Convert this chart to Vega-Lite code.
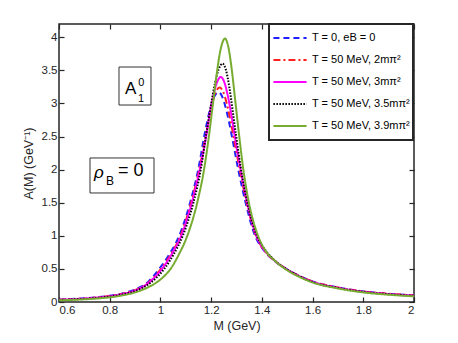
{
  "$schema": "https://vega.github.io/schema/vega-lite/v6.json",
  "width": 355,
  "height": 278,
  "autosize": {"type": "none"},
  "padding": {"left": 59, "top": 24, "right": 44, "bottom": 41},
  "background": "white",
  "config": {
    "view": {"stroke": "#262626", "strokeWidth": 1.5},
    "font": "Liberation Sans",
    "axis": {
      "grid": false, "domain": false,
      "tickColor": "#262626", "tickSize": -5, "tickWidth": 1.2,
      "labelColor": "#262626", "labelFontSize": 11.5, "labelFont": "Liberation Sans",
      "titleColor": "#262626", "titleFontSize": 12.5, "titleFontWeight": "normal", "titleFont": "Liberation Sans"
    },
    "legend": {
      "orient": "none", "legendX": 210, "legendY": 0,
      "symbolType": "stroke", "symbolSize": 1100, "clipHeight": 22,
      "labelFontSize": 11, "labelColor": "black", "labelFont": "Liberation Sans", "labelLimit": 300,
      "labelOffset": 4, "rowPadding": 0, "padding": 3,
      "strokeColor": "#262626", "strokeWidth": 2, "fillColor": "white"
    }
  },
  "datasets": {
    "curves": [
      {"series": "T = 0, eB = 0", "M": 0.60, "A": 0.035},
      {"series": "T = 0, eB = 0", "M": 0.65, "A": 0.045},
      {"series": "T = 0, eB = 0", "M": 0.70, "A": 0.055},
      {"series": "T = 0, eB = 0", "M": 0.75, "A": 0.072},
      {"series": "T = 0, eB = 0", "M": 0.80, "A": 0.095},
      {"series": "T = 0, eB = 0", "M": 0.85, "A": 0.13},
      {"series": "T = 0, eB = 0", "M": 0.90, "A": 0.19},
      {"series": "T = 0, eB = 0", "M": 0.95, "A": 0.30},
      {"series": "T = 0, eB = 0", "M": 0.995, "A": 0.50},
      {"series": "T = 0, eB = 0", "M": 1.035, "A": 0.72},
      {"series": "T = 0, eB = 0", "M": 1.074, "A": 1.00},
      {"series": "T = 0, eB = 0", "M": 1.117, "A": 1.50},
      {"series": "T = 0, eB = 0", "M": 1.149, "A": 2.00},
      {"series": "T = 0, eB = 0", "M": 1.175, "A": 2.55},
      {"series": "T = 0, eB = 0", "M": 1.195, "A": 2.90},
      {"series": "T = 0, eB = 0", "M": 1.212, "A": 3.10},
      {"series": "T = 0, eB = 0", "M": 1.228, "A": 3.17},
      {"series": "T = 0, eB = 0", "M": 1.24, "A": 3.13},
      {"series": "T = 0, eB = 0", "M": 1.255, "A": 2.97},
      {"series": "T = 0, eB = 0", "M": 1.27, "A": 2.73},
      {"series": "T = 0, eB = 0", "M": 1.285, "A": 2.44},
      {"series": "T = 0, eB = 0", "M": 1.307, "A": 2.00},
      {"series": "T = 0, eB = 0", "M": 1.336, "A": 1.50},
      {"series": "T = 0, eB = 0", "M": 1.373, "A": 1.00},
      {"series": "T = 0, eB = 0", "M": 1.40, "A": 0.82},
      {"series": "T = 0, eB = 0", "M": 1.45, "A": 0.62},
      {"series": "T = 0, eB = 0", "M": 1.50, "A": 0.49},
      {"series": "T = 0, eB = 0", "M": 1.55, "A": 0.39},
      {"series": "T = 0, eB = 0", "M": 1.60, "A": 0.31},
      {"series": "T = 0, eB = 0", "M": 1.70, "A": 0.22},
      {"series": "T = 0, eB = 0", "M": 1.80, "A": 0.16},
      {"series": "T = 0, eB = 0", "M": 1.90, "A": 0.125},
      {"series": "T = 0, eB = 0", "M": 2.00, "A": 0.10},

      {"series": "T = 50 MeV, 2mπ²", "M": 0.60, "A": 0.033},
      {"series": "T = 50 MeV, 2mπ²", "M": 0.65, "A": 0.043},
      {"series": "T = 50 MeV, 2mπ²", "M": 0.70, "A": 0.053},
      {"series": "T = 50 MeV, 2mπ²", "M": 0.75, "A": 0.069},
      {"series": "T = 50 MeV, 2mπ²", "M": 0.80, "A": 0.09},
      {"series": "T = 50 MeV, 2mπ²", "M": 0.85, "A": 0.125},
      {"series": "T = 50 MeV, 2mπ²", "M": 0.90, "A": 0.18},
      {"series": "T = 50 MeV, 2mπ²", "M": 0.95, "A": 0.285},
      {"series": "T = 50 MeV, 2mπ²", "M": 1.002, "A": 0.50},
      {"series": "T = 50 MeV, 2mπ²", "M": 1.041, "A": 0.72},
      {"series": "T = 50 MeV, 2mπ²", "M": 1.079, "A": 1.00},
      {"series": "T = 50 MeV, 2mπ²", "M": 1.121, "A": 1.50},
      {"series": "T = 50 MeV, 2mπ²", "M": 1.153, "A": 2.00},
      {"series": "T = 50 MeV, 2mπ²", "M": 1.181, "A": 2.55},
      {"series": "T = 50 MeV, 2mπ²", "M": 1.203, "A": 2.97},
      {"series": "T = 50 MeV, 2mπ²", "M": 1.218, "A": 3.17},
      {"series": "T = 50 MeV, 2mπ²", "M": 1.233, "A": 3.24},
      {"series": "T = 50 MeV, 2mπ²", "M": 1.247, "A": 3.18},
      {"series": "T = 50 MeV, 2mπ²", "M": 1.262, "A": 2.99},
      {"series": "T = 50 MeV, 2mπ²", "M": 1.277, "A": 2.73},
      {"series": "T = 50 MeV, 2mπ²", "M": 1.292, "A": 2.42},
      {"series": "T = 50 MeV, 2mπ²", "M": 1.313, "A": 2.00},
      {"series": "T = 50 MeV, 2mπ²", "M": 1.340, "A": 1.50},
      {"series": "T = 50 MeV, 2mπ²", "M": 1.377, "A": 1.00},
      {"series": "T = 50 MeV, 2mπ²", "M": 1.40, "A": 0.83},
      {"series": "T = 50 MeV, 2mπ²", "M": 1.45, "A": 0.625},
      {"series": "T = 50 MeV, 2mπ²", "M": 1.50, "A": 0.49},
      {"series": "T = 50 MeV, 2mπ²", "M": 1.55, "A": 0.39},
      {"series": "T = 50 MeV, 2mπ²", "M": 1.60, "A": 0.31},
      {"series": "T = 50 MeV, 2mπ²", "M": 1.70, "A": 0.22},
      {"series": "T = 50 MeV, 2mπ²", "M": 1.80, "A": 0.16},
      {"series": "T = 50 MeV, 2mπ²", "M": 1.90, "A": 0.125},
      {"series": "T = 50 MeV, 2mπ²", "M": 2.00, "A": 0.10},

      {"series": "T = 50 MeV, 3mπ²", "M": 0.60, "A": 0.032},
      {"series": "T = 50 MeV, 3mπ²", "M": 0.65, "A": 0.042},
      {"series": "T = 50 MeV, 3mπ²", "M": 0.70, "A": 0.052},
      {"series": "T = 50 MeV, 3mπ²", "M": 0.75, "A": 0.067},
      {"series": "T = 50 MeV, 3mπ²", "M": 0.80, "A": 0.088},
      {"series": "T = 50 MeV, 3mπ²", "M": 0.85, "A": 0.12},
      {"series": "T = 50 MeV, 3mπ²", "M": 0.90, "A": 0.175},
      {"series": "T = 50 MeV, 3mπ²", "M": 0.95, "A": 0.28},
      {"series": "T = 50 MeV, 3mπ²", "M": 1.006, "A": 0.50},
      {"series": "T = 50 MeV, 3mπ²", "M": 1.044, "A": 0.72},
      {"series": "T = 50 MeV, 3mπ²", "M": 1.082, "A": 1.00},
      {"series": "T = 50 MeV, 3mπ²", "M": 1.124, "A": 1.50},
      {"series": "T = 50 MeV, 3mπ²", "M": 1.155, "A": 2.00},
      {"series": "T = 50 MeV, 3mπ²", "M": 1.18, "A": 2.50},
      {"series": "T = 50 MeV, 3mπ²", "M": 1.20, "A": 2.96},
      {"series": "T = 50 MeV, 3mπ²", "M": 1.215, "A": 3.22},
      {"series": "T = 50 MeV, 3mπ²", "M": 1.228, "A": 3.36},
      {"series": "T = 50 MeV, 3mπ²", "M": 1.238, "A": 3.40},
      {"series": "T = 50 MeV, 3mπ²", "M": 1.25, "A": 3.34},
      {"series": "T = 50 MeV, 3mπ²", "M": 1.265, "A": 3.13},
      {"series": "T = 50 MeV, 3mπ²", "M": 1.28, "A": 2.82},
      {"series": "T = 50 MeV, 3mπ²", "M": 1.295, "A": 2.46},
      {"series": "T = 50 MeV, 3mπ²", "M": 1.316, "A": 2.00},
      {"series": "T = 50 MeV, 3mπ²", "M": 1.342, "A": 1.50},
      {"series": "T = 50 MeV, 3mπ²", "M": 1.378, "A": 1.00},
      {"series": "T = 50 MeV, 3mπ²", "M": 1.40, "A": 0.84},
      {"series": "T = 50 MeV, 3mπ²", "M": 1.45, "A": 0.625},
      {"series": "T = 50 MeV, 3mπ²", "M": 1.50, "A": 0.49},
      {"series": "T = 50 MeV, 3mπ²", "M": 1.55, "A": 0.385},
      {"series": "T = 50 MeV, 3mπ²", "M": 1.60, "A": 0.305},
      {"series": "T = 50 MeV, 3mπ²", "M": 1.70, "A": 0.215},
      {"series": "T = 50 MeV, 3mπ²", "M": 1.80, "A": 0.155},
      {"series": "T = 50 MeV, 3mπ²", "M": 1.90, "A": 0.12},
      {"series": "T = 50 MeV, 3mπ²", "M": 2.00, "A": 0.095},

      {"series": "T = 50 MeV, 3.5mπ²", "M": 0.60, "A": 0.03},
      {"series": "T = 50 MeV, 3.5mπ²", "M": 0.65, "A": 0.039},
      {"series": "T = 50 MeV, 3.5mπ²", "M": 0.70, "A": 0.048},
      {"series": "T = 50 MeV, 3.5mπ²", "M": 0.75, "A": 0.062},
      {"series": "T = 50 MeV, 3.5mπ²", "M": 0.80, "A": 0.082},
      {"series": "T = 50 MeV, 3.5mπ²", "M": 0.85, "A": 0.112},
      {"series": "T = 50 MeV, 3.5mπ²", "M": 0.90, "A": 0.165},
      {"series": "T = 50 MeV, 3.5mπ²", "M": 0.95, "A": 0.26},
      {"series": "T = 50 MeV, 3.5mπ²", "M": 1.015, "A": 0.50},
      {"series": "T = 50 MeV, 3.5mπ²", "M": 1.052, "A": 0.72},
      {"series": "T = 50 MeV, 3.5mπ²", "M": 1.088, "A": 1.00},
      {"series": "T = 50 MeV, 3.5mπ²", "M": 1.130, "A": 1.50},
      {"series": "T = 50 MeV, 3.5mπ²", "M": 1.159, "A": 2.00},
      {"series": "T = 50 MeV, 3.5mπ²", "M": 1.18, "A": 2.52},
      {"series": "T = 50 MeV, 3.5mπ²", "M": 1.20, "A": 2.99},
      {"series": "T = 50 MeV, 3.5mπ²", "M": 1.215, "A": 3.30},
      {"series": "T = 50 MeV, 3.5mπ²", "M": 1.23, "A": 3.52},
      {"series": "T = 50 MeV, 3.5mπ²", "M": 1.245, "A": 3.60},
      {"series": "T = 50 MeV, 3.5mπ²", "M": 1.258, "A": 3.51},
      {"series": "T = 50 MeV, 3.5mπ²", "M": 1.272, "A": 3.24},
      {"series": "T = 50 MeV, 3.5mπ²", "M": 1.286, "A": 2.86},
      {"series": "T = 50 MeV, 3.5mπ²", "M": 1.30, "A": 2.47},
      {"series": "T = 50 MeV, 3.5mπ²", "M": 1.318, "A": 2.00},
      {"series": "T = 50 MeV, 3.5mπ²", "M": 1.343, "A": 1.50},
      {"series": "T = 50 MeV, 3.5mπ²", "M": 1.380, "A": 1.00},
      {"series": "T = 50 MeV, 3.5mπ²", "M": 1.40, "A": 0.86},
      {"series": "T = 50 MeV, 3.5mπ²", "M": 1.45, "A": 0.63},
      {"series": "T = 50 MeV, 3.5mπ²", "M": 1.50, "A": 0.49},
      {"series": "T = 50 MeV, 3.5mπ²", "M": 1.55, "A": 0.385},
      {"series": "T = 50 MeV, 3.5mπ²", "M": 1.60, "A": 0.30},
      {"series": "T = 50 MeV, 3.5mπ²", "M": 1.70, "A": 0.212},
      {"series": "T = 50 MeV, 3.5mπ²", "M": 1.80, "A": 0.152},
      {"series": "T = 50 MeV, 3.5mπ²", "M": 1.90, "A": 0.117},
      {"series": "T = 50 MeV, 3.5mπ²", "M": 2.00, "A": 0.093},

      {"series": "T = 50 MeV, 3.9mπ²", "M": 0.60, "A": 0.025},
      {"series": "T = 50 MeV, 3.9mπ²", "M": 0.65, "A": 0.032},
      {"series": "T = 50 MeV, 3.9mπ²", "M": 0.70, "A": 0.04},
      {"series": "T = 50 MeV, 3.9mπ²", "M": 0.75, "A": 0.053},
      {"series": "T = 50 MeV, 3.9mπ²", "M": 0.80, "A": 0.07},
      {"series": "T = 50 MeV, 3.9mπ²", "M": 0.85, "A": 0.10},
      {"series": "T = 50 MeV, 3.9mπ²", "M": 0.90, "A": 0.145},
      {"series": "T = 50 MeV, 3.9mπ²", "M": 0.95, "A": 0.22},
      {"series": "T = 50 MeV, 3.9mπ²", "M": 1.00, "A": 0.34},
      {"series": "T = 50 MeV, 3.9mπ²", "M": 1.04, "A": 0.50},
      {"series": "T = 50 MeV, 3.9mπ²", "M": 1.073, "A": 0.72},
      {"series": "T = 50 MeV, 3.9mπ²", "M": 1.106, "A": 1.00},
      {"series": "T = 50 MeV, 3.9mπ²", "M": 1.145, "A": 1.50},
      {"series": "T = 50 MeV, 3.9mπ²", "M": 1.172, "A": 2.00},
      {"series": "T = 50 MeV, 3.9mπ²", "M": 1.191, "A": 2.50},
      {"series": "T = 50 MeV, 3.9mπ²", "M": 1.205, "A": 2.93},
      {"series": "T = 50 MeV, 3.9mπ²", "M": 1.22, "A": 3.39},
      {"series": "T = 50 MeV, 3.9mπ²", "M": 1.237, "A": 3.81},
      {"series": "T = 50 MeV, 3.9mπ²", "M": 1.2546, "A": 3.98},
      {"series": "T = 50 MeV, 3.9mπ²", "M": 1.268, "A": 3.85},
      {"series": "T = 50 MeV, 3.9mπ²", "M": 1.282, "A": 3.49},
      {"series": "T = 50 MeV, 3.9mπ²", "M": 1.296, "A": 3.01},
      {"series": "T = 50 MeV, 3.9mπ²", "M": 1.31, "A": 2.53},
      {"series": "T = 50 MeV, 3.9mπ²", "M": 1.327, "A": 2.00},
      {"series": "T = 50 MeV, 3.9mπ²", "M": 1.349, "A": 1.50},
      {"series": "T = 50 MeV, 3.9mπ²", "M": 1.385, "A": 1.00},
      {"series": "T = 50 MeV, 3.9mπ²", "M": 1.41, "A": 0.80},
      {"series": "T = 50 MeV, 3.9mπ²", "M": 1.452, "A": 0.62},
      {"series": "T = 50 MeV, 3.9mπ²", "M": 1.50, "A": 0.48},
      {"series": "T = 50 MeV, 3.9mπ²", "M": 1.55, "A": 0.375},
      {"series": "T = 50 MeV, 3.9mπ²", "M": 1.60, "A": 0.295},
      {"series": "T = 50 MeV, 3.9mπ²", "M": 1.70, "A": 0.205},
      {"series": "T = 50 MeV, 3.9mπ²", "M": 1.80, "A": 0.145},
      {"series": "T = 50 MeV, 3.9mπ²", "M": 1.90, "A": 0.11},
      {"series": "T = 50 MeV, 3.9mπ²", "M": 2.00, "A": 0.085}
    ]
  },
  "resolve": {"axis": {"x": "independent", "y": "independent"}},
  "layer": [
    {
      "data": {"name": "curves"},
      "mark": {"type": "line", "interpolate": "monotone", "clip": true},
      "encoding": {
        "x": {"field": "M", "type": "quantitative",
          "scale": {"domain": [0.6, 2], "nice": false, "zero": false},
          "axis": {"title": "M (GeV)", "values": [0.6, 0.8, 1, 1.2, 1.4, 1.6, 1.8, 2], "format": "~g", "labelPadding": 7, "titlePadding": 4}},
        "y": {"field": "A", "type": "quantitative",
          "scale": {"domain": [0, 4.2], "nice": false, "zero": false},
          "axis": {"title": "A(M) (GeV⁻¹)", "values": [0, 0.5, 1, 1.5, 2, 2.5, 3, 3.5, 4], "format": "~g", "labelPadding": 7, "titlePadding": 6}},
        "color": {"field": "series", "type": "nominal",
          "scale": {"domain": ["T = 0, eB = 0", "T = 50 MeV, 2mπ²", "T = 50 MeV, 3mπ²", "T = 50 MeV, 3.5mπ²", "T = 50 MeV, 3.9mπ²"],
                    "range": ["#1f1fff", "#ff2020", "#ff00ff", "#000000", "#77ac30"]},
          "legend": {"title": null}},
        "strokeDash": {"field": "series", "type": "nominal",
          "scale": {"domain": ["T = 0, eB = 0", "T = 50 MeV, 2mπ²", "T = 50 MeV, 3mπ²", "T = 50 MeV, 3.5mπ²", "T = 50 MeV, 3.9mπ²"],
                    "range": [[6, 4], [7, 3, 2, 3], [1, 0], [1.5, 1.5], [1, 0]]},
          "legend": {"title": null}},
        "strokeWidth": {"field": "series", "type": "ordinal",
          "scale": {"domain": ["T = 0, eB = 0", "T = 50 MeV, 2mπ²", "T = 50 MeV, 3mπ²", "T = 50 MeV, 3.5mπ²", "T = 50 MeV, 3.9mπ²"],
                    "range": [2, 2, 1.6, 1.6, 1.3]},
          "legend": {"title": null}}
      }
    },
    {
      "data": {"values": [{}]},
      "mark": {"type": "rect", "fill": "white", "stroke": "#333333", "strokeWidth": 1},
      "encoding": {
        "x": {"datum": 0.8366, "type": "quantitative", "axis": {"orient": "top", "labels": false, "title": null, "values": [0.6, 0.8, 1, 1.2, 1.4, 1.6, 1.8, 2]}},
        "x2": {"datum": 0.9628},
        "y": {"datum": 3.55, "type": "quantitative", "axis": {"orient": "right", "labels": false, "title": null, "values": [0, 0.5, 1, 1.5, 2, 2.5, 3, 3.5, 4]}},
        "y2": {"datum": 2.976}
      }
    },
    {
      "data": {"values": [{}]},
      "mark": {"type": "rect", "fill": "white", "stroke": "#333333", "strokeWidth": 1},
      "encoding": {
        "x": {"datum": 0.7222, "type": "quantitative", "axis": null},
        "x2": {"datum": 0.9747},
        "y": {"datum": 2.176, "type": "quantitative", "axis": null},
        "y2": {"datum": 1.647}
      }
    },
    {
      "data": {"values": [{}]},
      "mark": {"type": "text", "text": "A", "fontSize": 17, "align": "left", "baseline": "alphabetic", "color": "black"},
      "encoding": {
        "x": {"datum": 0.8603, "type": "quantitative", "axis": null},
        "y": {"datum": 3.138, "type": "quantitative", "axis": null}
      }
    },
    {
      "data": {"values": [{}]},
      "mark": {"type": "text", "text": "0", "fontSize": 11, "align": "left", "baseline": "alphabetic", "color": "black"},
      "encoding": {
        "x": {"datum": 0.9127, "type": "quantitative", "axis": null},
        "y": {"datum": 3.263, "type": "quantitative", "axis": null}
      }
    },
    {
      "data": {"values": [{}]},
      "mark": {"type": "text", "text": "1", "fontSize": 11, "align": "left", "baseline": "alphabetic", "color": "black"},
      "encoding": {
        "x": {"datum": 0.9116, "type": "quantitative", "axis": null},
        "y": {"datum": 3.026, "type": "quantitative", "axis": null}
      }
    },
    {
      "data": {"values": [{}]},
      "mark": {"type": "text", "text": "ρ", "fontSize": 17, "fontStyle": "italic", "align": "left", "baseline": "alphabetic", "color": "black"},
      "encoding": {
        "x": {"datum": 0.738, "type": "quantitative", "axis": null},
        "y": {"datum": 1.873, "type": "quantitative", "axis": null}
      }
    },
    {
      "data": {"values": [{}]},
      "mark": {"type": "text", "text": "B", "fontSize": 12, "align": "left", "baseline": "alphabetic", "color": "black"},
      "encoding": {
        "x": {"datum": 0.785, "type": "quantitative", "axis": null},
        "y": {"datum": 1.765, "type": "quantitative", "axis": null}
      }
    },
    {
      "data": {"values": [{}]},
      "mark": {"type": "text", "text": "= 0", "fontSize": 18, "align": "left", "baseline": "alphabetic", "color": "black"},
      "encoding": {
        "x": {"datum": 0.8327, "type": "quantitative", "axis": null},
        "y": {"datum": 1.904, "type": "quantitative", "axis": null}
      }
    }
  ]
}
